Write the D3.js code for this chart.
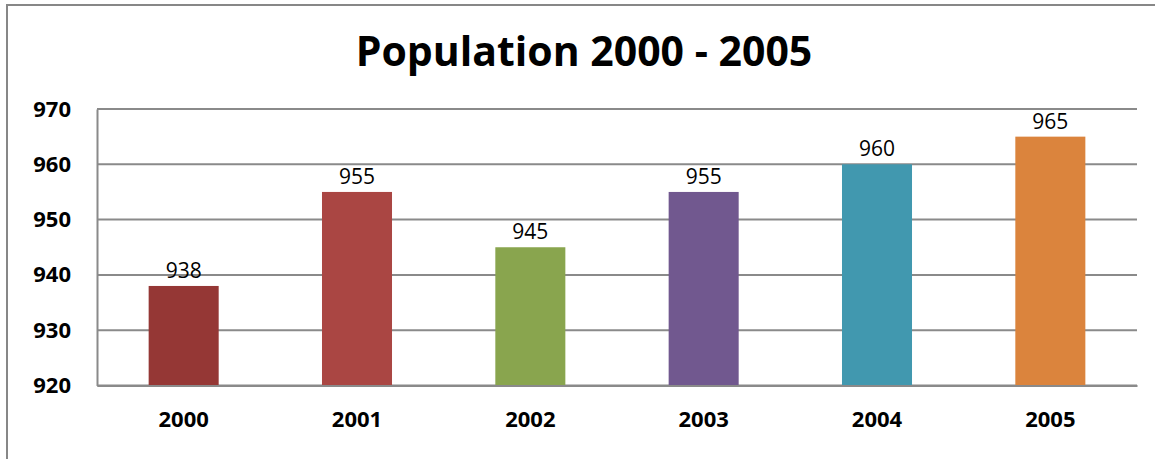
<!DOCTYPE html>
<html><head><meta charset="utf-8">
<script src="https://cdn.jsdelivr.net/npm/d3@7"></script>
<style>body{margin:0;background:#fff;overflow:hidden}svg{display:block}</style>
</head><body>
<svg id="c" width="1155" height="459"></svg>
<script>
const categories = ["2000","2001","2002","2003","2004","2005"];
const values = [938, 955, 945, 955, 960, 965];
const colors = ["#953735","#AA4643","#89A54E","#71588F","#4198AF","#DB843D"];
const yTicks = [920, 930, 940, 950, 960, 970];
const title = "Population 2000 - 2005";

const svg = d3.select("#c");
const font = "'Open Sans', sans-serif";
const L = 97, R = 1137, T = 109, B = 385.5;

svg.append("rect").attr("x", 7).attr("y", 5).attr("width", 1160).attr("height", 470)
  .attr("fill", "#fff").attr("stroke", "#878787").attr("stroke-width", 2);

svg.append("text").attr("x", 584).attr("y", 66).attr("text-anchor", "middle")
  .attr("font-family", font).attr("font-weight", "bold").attr("font-size", 41)
  .attr("fill", "#000").text(title);

const x = d3.scaleBand().domain(categories).range([L, R]);
const y = d3.scaleLinear().domain([920, 970]).range([B, T]);

const grid = svg.append("g");
grid.selectAll("line").data(yTicks).join("line")
  .attr("x1", L).attr("x2", R).attr("y1", d => y(d)).attr("y2", d => y(d))
  .attr("stroke", "#8a8a8a").attr("stroke-width", 2);

const yAxis = d3.axisLeft(y).tickValues(yTicks).tickSize(0).tickPadding(26);
const ya = svg.append("g").attr("transform", `translate(${L},0)`).call(yAxis);
ya.select(".domain").attr("stroke", "#8a8a8a").attr("stroke-width", 2);
ya.selectAll("text").attr("font-family", font).attr("font-weight", "bold")
  .attr("font-size", 22).attr("fill", "#000");

const bw = x.bandwidth() * 0.404;
svg.append("g").selectAll("rect").data(categories).join("rect")
  .attr("x", (d) => x(d) + x.bandwidth() / 2 - bw / 2)
  .attr("y", (d, i) => y(values[i]))
  .attr("width", bw)
  .attr("height", (d, i) => y(920) - y(values[i]))
  .attr("fill", (d, i) => colors[i]);

svg.append("g").selectAll("text").data(categories).join("text")
  .attr("x", d => x(d) + x.bandwidth() / 2)
  .attr("y", (d, i) => y(values[i]) - 8)
  .attr("text-anchor", "middle")
  .attr("font-family", font).attr("font-size", 21).attr("fill", "#000")
  .text((d, i) => values[i]);

const xAxis = d3.axisBottom(x).tickSize(0).tickPadding(26);
const xa = svg.append("g").attr("transform", `translate(0,${B})`).call(xAxis);
xa.select(".domain").attr("stroke", "#8a8a8a").attr("stroke-width", 2);
xa.selectAll("text").attr("font-family", font).attr("font-weight", "bold")
  .attr("font-size", 22).attr("fill", "#000");
</script>
</body></html>
